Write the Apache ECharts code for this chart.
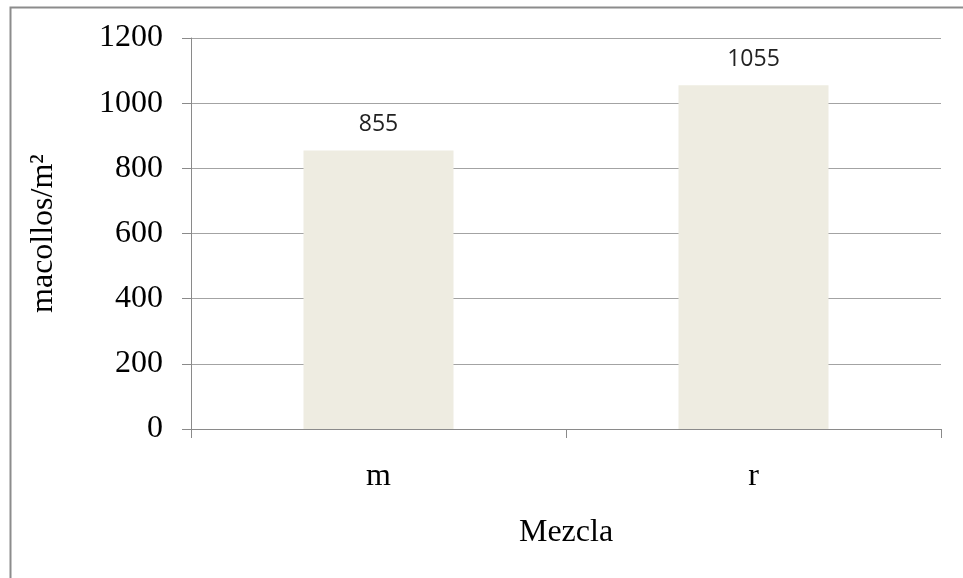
<!DOCTYPE html>
<html>
<head>
<meta charset="utf-8">
<script src="https://cdn.jsdelivr.net/npm/echarts@6/dist/echarts.min.js"></script>
<style>
  html, body { margin: 0; padding: 0; background: #fff; }
  #chart { width: 963px; height: 578px; }
</style>
</head>
<body>
<div id="chart"></div>
<script>
// Tillers per square metre by mixture
const categories = ['m', 'r'];
const tillers = [855, 1055];
const yTicks = [0, 200, 400, 600, 800, 1000, 1200];

const serif = '"Liberation Serif", "Times New Roman", serif';
const axisGray = '#8a8a8a';

const chart = echarts.init(document.getElementById('chart'), null, { renderer: 'canvas' });

chart.setOption({
  backgroundColor: '#ffffff',
  animation: false,
  graphic: [{
    type: 'rect',
    left: 8,
    top: 5,
    shape: { width: 1200, height: 900 },
    style: { fill: 'none', stroke: '#8c8c8c', lineWidth: 2 },
    silent: true
  }],
  grid: { left: 191, right: 22, top: 38, bottom: 149 },
  xAxis: {
    type: 'category',
    data: categories,
    name: 'Mezcla',
    nameLocation: 'middle',
    nameGap: 88,
    nameTextStyle: { fontFamily: serif, fontSize: 32, color: '#000' },
    axisLine: { show: true, lineStyle: { color: axisGray, width: 1 } },
    axisTick: { show: true, length: 9, lineStyle: { color: axisGray } },
    axisLabel: { fontFamily: serif, fontSize: 32, color: '#000', margin: 32 },
    splitLine: { show: false }
  },
  yAxis: {
    type: 'value',
    min: yTicks[0],
    max: yTicks[yTicks.length - 1],
    interval: yTicks[1] - yTicks[0],
    name: 'macollos/m²',
    nameLocation: 'middle',
    nameGap: 131,
    nameTextStyle: { fontFamily: serif, fontSize: 32, color: '#000' },
    axisLine: { show: true, lineStyle: { color: axisGray, width: 1 } },
    axisTick: { show: true, length: 9, lineStyle: { color: axisGray } },
    axisLabel: {
      fontFamily: serif,
      fontSize: 32,
      color: '#000',
      margin: 28,
      formatter: (v) => String(v)
    },
    splitLine: { show: true, lineStyle: { color: '#a3a3a3', width: 1 } }
  },
  series: [{
    type: 'bar',
    data: tillers,
    barWidth: '40%',
    itemStyle: { color: '#EEECE1' },
    label: {
      show: true,
      position: 'top',
      distance: 14,
      fontFamily: '"Open Sans", "DejaVu Sans", sans-serif',
      fontSize: 23,
      color: '#222'
    }
  }]
});
</script>
</body>
</html>
